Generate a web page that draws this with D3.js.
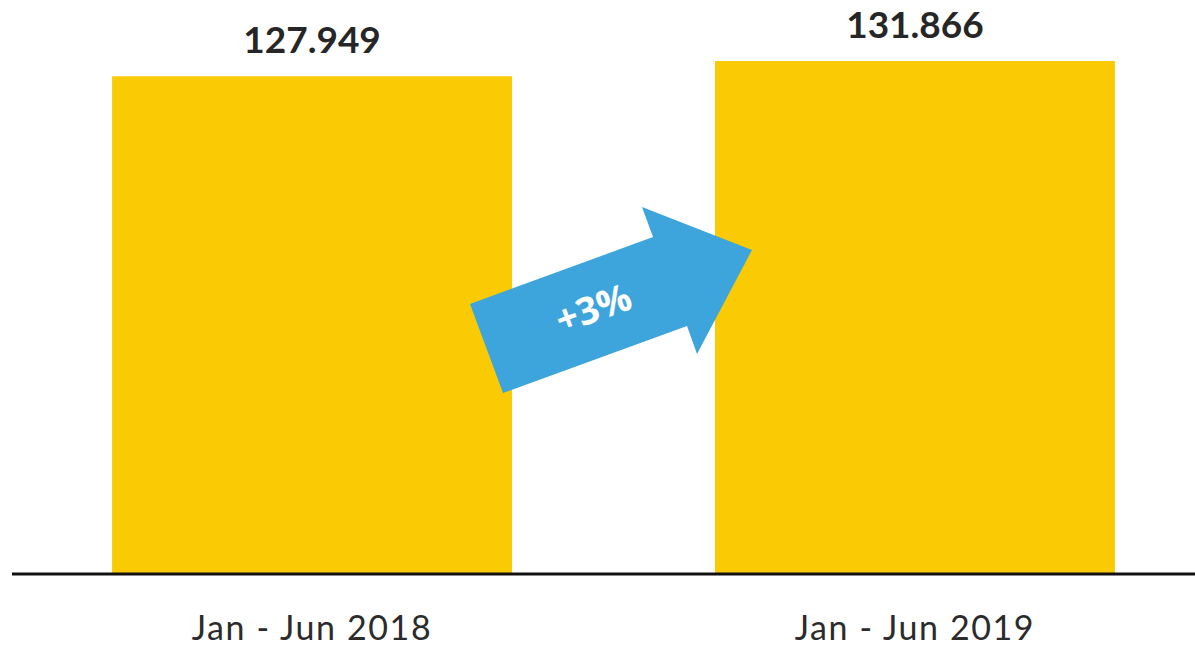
<!DOCTYPE html>
<html>
<head>
<meta charset="utf-8">
<script src="https://d3js.org/d3.v7.min.js"></script>
<style>
  body { margin: 0; background: #fff; }
  svg { display: block; }
</style>
</head>
<body>
<svg id="graph" width="1195" height="646"></svg>
<script>
// données
const periodes = ["Jan - Jun 2018", "Jan - Jun 2019"];
const valeurs = [127.949, 131.866];
const etiquettes = ["127.949", "131.866"];
const variation = "+3%";

const svg = d3.select("#graph");
const hauteur_base = 574;

const x = d3.scaleBand()
    .domain(periodes)
    .range([12, 1215])
    .paddingInner(0.3367)
    .paddingOuter(0.166);

const y = d3.scaleLinear()
    .domain([0, d3.max(valeurs)])
    .range([hauteur_base, 61]);

const donnees = periodes.map((p, i) => ({ p: p, v: valeurs[i], t: etiquettes[i] }));

// barres
svg.selectAll(".barre")
    .data(donnees)
    .join("rect")
    .attr("class", "barre")
    .attr("fill", "#FACB05")
    .attr("x", d => x(d.p))
    .attr("width", x.bandwidth())
    .attr("y", d => y(d.v))
    .attr("height", d => hauteur_base - y(d.v));

// valeurs au-dessus des barres
svg.selectAll(".valeur")
    .data(donnees)
    .join("text")
    .attr("class", "valeur")
    .attr("x", d => x(d.p) + x.bandwidth() / 2)
    .attr("y", d => y(d.v) - 23)
    .attr("text-anchor", "middle")
    .attr("font-family", "Lato, sans-serif")
    .attr("font-weight", "bold")
    .attr("font-size", 37)
    .attr("fill", "#262626")
    .text(d => d.t);

// axe du bas (sans graduations)
const axe = svg.append("g")
    .attr("transform", `translate(0,${hauteur_base})`)
    .call(d3.axisBottom(x).tickSize(0));
axe.select(".domain")
    .attr("d", "M12,0H1195")
    .attr("stroke", "#111")
    .attr("stroke-width", 3);
axe.selectAll("text")
    .attr("y", 66)
    .attr("dy", null)
    .attr("font-family", "Lato, sans-serif")
    .attr("font-size", 34)
    .attr("letter-spacing", 1.6)
    .attr("fill", "#2b2b2b");

// flèche bleue entre les deux barres
const fleche = [[470, 304], [653, 237], [642, 207], [752, 250], [697, 354], [687, 326], [503, 393]];
svg.append("path")
    .attr("d", d3.line()(fleche) + "Z")
    .attr("fill", "#3DA5DC");

svg.append("text")
    .attr("transform", "translate(598,321) rotate(-20)")
    .attr("text-anchor", "middle")
    .attr("font-family", "'Open Sans', sans-serif")
    .attr("font-weight", "bold")
    .attr("font-size", 38)
    .attr("fill", "#fff")
    .text(variation);
</script>
</body>
</html>
